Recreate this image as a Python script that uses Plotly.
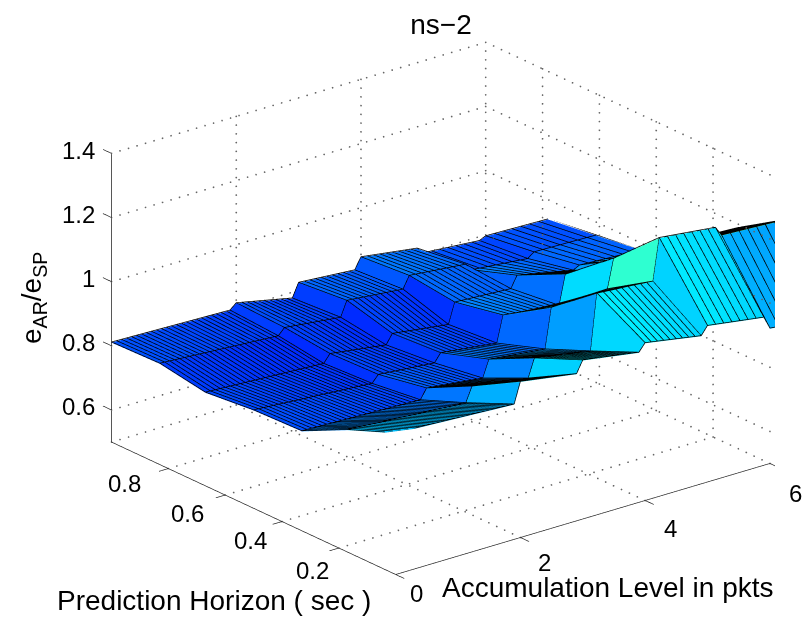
import numpy as np
import plotly.graph_objects as go

# Axis ticks and labels
x_ticks = [0, 2, 4, 6]
y_ticks = [0.2, 0.4, 0.6, 0.8]
z_ticks = [0.6, 0.8, 1.0, 1.2, 1.4]
x_tick_text = ["0", "2", "4", "6"]
y_tick_text = ["0.2", "0.4", "0.6", "0.8"]
z_tick_text = ["0.6", "0.8", "1", "1.2", "1.4"]

# Prediction horizon rows
horizon = [0.0, 0.17, 0.33, 0.5, 0.67, 0.83, 1.0]

# Accumulation level: positions of the read points (start and end of each plateau)
level_knots = [0, 1.9, 2.0, 2.9, 3.0, 3.9, 4.0, 4.9, 5.0, 5.9, 6.0, 7.0]

# Error ratio read at the knots, one list per horizon row
ratio_h000 = [0.94, 0.92, 0.985, 0.957, 0.994, 0.966, 0.99, 0.96, 0.986, 0.96, 0.92, 0.90]
ratio_h017 = [0.88, 0.854, 0.90, 0.873, 0.93, 0.90, 1.075, 1.06, 1.19, 1.17, 1.14, 1.13]
ratio_h033 = [0.81, 0.797, 0.828, 0.807, 0.86, 0.84, 0.964, 0.97, 1.06, 1.03, 1.05, 1.04]
ratio_h050 = [0.805, 0.778, 0.80, 0.784, 0.81, 0.788, 0.87, 0.848, 0.94, 0.90, 0.93, 0.88]
ratio_h067 = [0.79, 0.77, 0.795, 0.77, 0.80, 0.776, 0.84, 0.83, 0.866, 0.83, 0.84, 0.83]
ratio_h083 = [0.814, 0.79, 0.81, 0.79, 0.837, 0.82, 0.857, 0.84, 0.817, 0.80, 0.815, 0.81]
ratio_h100 = [0.81, 0.80, 0.817, 0.78, 0.823, 0.81, 0.845, 0.82, 0.80, 0.786, 0.795, 0.79]

# Mesh columns drawn between the knots
mesh_columns = [
    0, .08, .16, .24, .32, .4, .48, .56, .64, .72, .8, .88, .96, 1.04, 1.12, 1.2, 1.28, 1.36, 1.44, 1.52,
    1.6, 1.68, 1.76, 1.84, 1.9,
    2.0, 2.09, 2.18, 2.27, 2.36, 2.45, 2.54, 2.63, 2.72, 2.81, 2.9,
    3.0, 3.09, 3.18, 3.27, 3.36, 3.45, 3.54, 3.63, 3.72, 3.81, 3.9,
    4.0, 4.1, 4.2, 4.3, 4.4, 4.5, 4.6, 4.7, 4.8, 4.9,
    5.0, 5.13, 5.26, 5.39, 5.52, 5.65, 5.78, 5.9,
    6.0, 6.14, 6.28, 6.42, 6.56, 6.7, 6.85, 7.0,
]

rows = [ratio_h000, ratio_h017, ratio_h033, ratio_h050, ratio_h067, ratio_h083, ratio_h100]
X = np.array(mesh_columns, float)
Y = np.array(horizon, float)
Z = np.array([np.interp(X, level_knots, r) for r in rows])
ny, nx = Z.shape
ZMIN, ZMAX = 0.5, 1.4

gx, gy = np.meshgrid(X, Y)
vid = lambda j, i: j * nx + i
ii, jj, kk, cell = [], [], [], []
for j in range(ny - 1):
    for i in range(nx - 1):
        m = Z[j, i]  # a facet takes the colour of its first corner
        ii += [vid(j, i), vid(j, i)]
        jj += [vid(j, i + 1), vid(j + 1, i + 1)]
        kk += [vid(j + 1, i + 1), vid(j + 1, i)]
        cell += [m, m]

jet = [[0, "#00008f"], [0.125, "#0000ff"], [0.375, "#00ffff"], [0.625, "#ffff00"], [0.875, "#ff0000"], [1, "#800000"]]

fig = go.Figure()
fig.add_trace(go.Mesh3d(
    x=gx.ravel(), y=gy.ravel(), z=Z.ravel(), i=ii, j=jj, k=kk,
    intensity=cell, intensitymode="cell", colorscale=jet, cmin=0.576, cmax=1.726,
    showscale=False, flatshading=True, hoverinfo="skip",
    lighting=dict(ambient=1, diffuse=0, specular=0, fresnel=0, roughness=1),
))

LIFT = 0.002
lx, ly, lz = [], [], []
for j in range(ny):
    lx += list(X) + [None]; ly += [Y[j]] * nx + [None]; lz += list(Z[j] + LIFT) + [None]
for i in range(nx):
    lx += [X[i]] * ny + [None]; ly += list(Y) + [None]; lz += list(Z[:, i] + LIFT) + [None]
fig.add_trace(go.Scatter3d(x=lx, y=ly, z=lz, mode="lines", line=dict(color="black", width=1.5), hoverinfo="skip"))

# dotted grid on the floor and the two back walls, drawn as evenly spaced points
DOTS_X, DOTS_Y, DOTS_Z = 44, 36, 33
gxs, gys, gzs = [], [], []
def dots(p, q, n):
    t = np.linspace(0, 1, n + 1)
    gxs.extend(p[0] + (q[0] - p[0]) * t); gys.extend(p[1] + (q[1] - p[1]) * t); gzs.extend(p[2] + (q[2] - p[2]) * t)
for t in [2, 4, 6]:
    dots((t, 0, ZMIN), (t, 1, ZMIN), DOTS_Y); dots((t, 1, ZMIN), (t, 1, ZMAX), DOTS_Z)
for t in y_ticks + [1.0]:
    dots((0, t, ZMIN), (6, t, ZMIN), DOTS_X); dots((6, t, ZMIN), (6, t, ZMAX), DOTS_Z)
for t in z_ticks:
    dots((0, 1, t), (6, 1, t), DOTS_X); dots((6, 1, t), (6, 0, t), DOTS_Y)
fig.add_trace(go.Scatter3d(x=gxs, y=gys, z=gzs, mode="markers",
                           marker=dict(color="#666666", size=1, line=dict(width=0)), hoverinfo="skip"))

# solid axes with tick marks
axs, ays, azs = [], [], []
def aseg(p, q):
    axs.extend([p[0], q[0], None]); ays.extend([p[1], q[1], None]); azs.extend([p[2], q[2], None])
aseg((0, 1, ZMIN), (0, 1, ZMAX)); aseg((0, 1, ZMIN), (0, 0, ZMIN)); aseg((0, 0, ZMIN), (6, 0, ZMIN))
for t in x_ticks:
    aseg((t, 0, ZMIN), (t, -0.03, ZMIN))
for t in y_ticks:
    aseg((0, t, ZMIN), (-0.15, t, ZMIN))
for t in z_ticks:
    aseg((0, 1, t), (0, 1.03, t))
fig.add_trace(go.Scatter3d(x=axs, y=ays, z=azs, mode="lines", line=dict(color="#202020", width=1.4), hoverinfo="skip"))

TICK_FONT = dict(family="Liberation Sans, Arial, sans-serif", size=24, color="black")
FONT = dict(family="Liberation Sans, Arial, sans-serif", size=28, color="black")
ann3d = []
x_off = [(21, 19), (24, 25), (25, 28), (26, 30)]
for t, s, o in zip(x_ticks, x_tick_text, x_off):
    ann3d.append(dict(x=t, y=0, z=ZMIN, text=s, showarrow=False, font=TICK_FONT, xshift=o[0], yshift=-o[1]))
y_off = [(-26, 22), (-32, 19), (-38, 18), (-44, 15)]
for t, s, o in zip(y_ticks, y_tick_text, y_off):
    ann3d.append(dict(x=0, y=t, z=ZMIN, text=s, showarrow=False, font=TICK_FONT, xshift=o[0], yshift=-o[1]))
for t, s in zip(z_ticks, z_tick_text):
    ann3d.append(dict(x=0, y=1, z=t, text=s, showarrow=False, font=TICK_FONT, xanchor="right", xshift=-15, yshift=3))

cos_el, sin_el = 0.928, 0.372
view = np.array([-0.624 * cos_el, -0.782 * cos_el, sin_el])
right = np.array([0.782, -0.624, 0.0])
up = np.array([0.232, 0.291, 0.928])
SHIFT_R, SHIFT_U = -0.252, -0.029
c = SHIFT_R * right + SHIFT_U * up
e = c + view * 1.0
ZOOM = 1.52

axis_off = dict(visible=False, showgrid=False, zeroline=False, showline=False, showticklabels=False,
                showbackground=False, showspikes=False)
fig.update_layout(
    width=806, height=620, margin=dict(l=0, r=0, t=0, b=0), paper_bgcolor="white", showlegend=False,
    title=dict(text="ns\u22122", x=441 / 806, y=1 - 24 / 620, xanchor="center", yanchor="middle", font=FONT),
    scene=dict(
        domain=dict(x=[0, 775 / 806], y=[0, 1]),
        xaxis=dict(range=[-0.2, 7], **axis_off),
        yaxis=dict(range=[-0.05, 1.05], **axis_off),
        zaxis=dict(range=[ZMIN - 0.01, ZMAX + 0.01], **axis_off),
        aspectmode="manual",
        aspectratio=dict(x=ZOOM * 1.016 * 7.2 / 6, y=ZOOM * 0.967 * 1.1, z=ZOOM * 0.66 * 0.92 / 0.9),
        camera=dict(eye=dict(x=e[0], y=e[1], z=e[2]), up=dict(x=0, y=0, z=1),
                    center=dict(x=c[0], y=c[1], z=c[2]), projection=dict(type="orthographic")),
        annotations=ann3d,
    ),
    annotations=[
        dict(text="Prediction Horizon ( sec )", x=214 / 806, y=1 - 600 / 620, xref="paper", yref="paper",
             xanchor="center", yanchor="middle", showarrow=False, font=FONT),
        dict(text="Accumulation Level in pkts", x=608 / 806, y=1 - 587 / 620, xref="paper", yref="paper",
             xanchor="center", yanchor="middle", showarrow=False, font=FONT),
        dict(text="e<sub>AR</sub>/e<sub>SP</sub>", x=33 / 806, y=1 - 298 / 620, xref="paper", yref="paper",
             xanchor="center", yanchor="middle", showarrow=False, font=FONT, textangle=-90),
    ],
)
fig.write_html("out.html", config=dict(displayModeBar=False),
               post_script="document.body.style.margin='0';document.body.style.overflow='hidden';")
